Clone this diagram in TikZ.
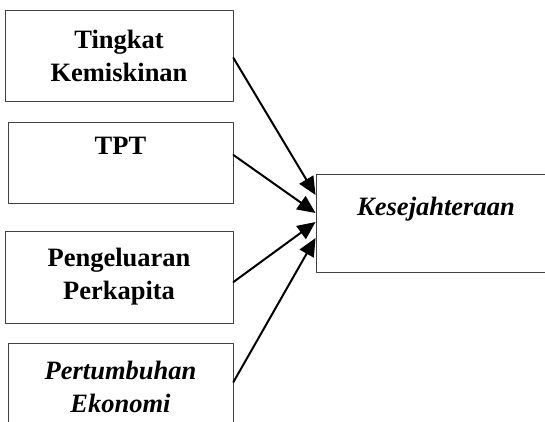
\documentclass[tikz,border=0pt]{standalone}
\usepackage{fontspec}
\setmainfont{Liberation Serif}
\usetikzlibrary{arrows.meta}
\begin{document}
\begin{tikzpicture}[line cap=round,line join=round,x=1pt,y=-1pt,
		varbox/.style={draw=black!75,line width=0.9pt,align=center,inner sep=0pt,
			font=\fontsize{26.5}{33}\selectfont\bfseries},
		link/.style={line width=2pt,-{Triangle[length=18pt,width=16pt]}}]
		\useasboundingbox (0,0) rectangle (545,421);
		% variabel bebas
		\node[varbox,minimum width=228pt,minimum height=91pt] (miskin) at (119,55.5) {Tingkat\\Kemiskinan};
		\node[varbox,minimum width=225pt,minimum height=81pt] (tpt) at (120.5,162.5) {TPT\\\mbox{}};
		\node[varbox,minimum width=228pt,minimum height=92pt] (kapita) at (119,277) {Pengeluaran\\Perkapita};
		\node[varbox,minimum width=225pt,minimum height=87pt,font=\fontsize{26.5}{33}\selectfont\bfseries\itshape] (ekonomi) at (120.5,386.5) {Pertumbuhan\\Ekonomi};
		% variabel terikat
		\node[varbox,minimum width=240pt,minimum height=98pt,font=\fontsize{26.5}{33}\selectfont\bfseries\itshape] (sejahtera) at (436,223) {Kesejahteraan\\\mbox{}};
		\draw[link] ([yshift=-2.5pt]miskin.east) -- ([yshift=28pt]sejahtera.west);
		\draw[link] ([yshift=7.5pt]tpt.east) -- ([yshift=10pt]sejahtera.west);
		\draw[link] ([yshift=-5pt]kapita.east) -- ([yshift=1pt]sejahtera.west);
		\draw[link] ([yshift=4.5pt]ekonomi.east) -- ([yshift=-15pt]sejahtera.west);
\end{tikzpicture}
\end{document}
